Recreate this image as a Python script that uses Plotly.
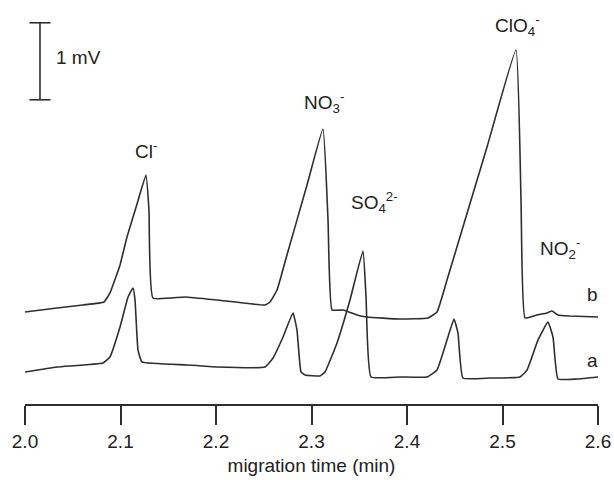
import plotly.graph_objects as go

# Electropherogram traces: migration time (min) and detector signal (mV)
time_a = [2.000, 2.0335, 2.0817, 2.089, 2.0995, 2.1079, 2.1131, 2.1152, 2.1183, 2.1225,
          2.1696, 2.2010, 2.2513, 2.2597, 2.2702, 2.2806, 2.2848, 2.2890, 2.2932, 2.3089,
          2.3141, 2.3267, 2.3403, 2.3539, 2.3571, 2.3623, 2.3927, 2.4209, 2.4314, 2.4419,
          2.4492, 2.4534, 2.4586, 2.4869, 2.5183, 2.5257, 2.5372, 2.5476, 2.5529, 2.5581,
          2.5780, 2.600]
signal_a = [0.065, 0.130, 0.182, 0.260, 0.649, 1.039, 1.156, 1.000, 0.351, 0.195,
            0.156, 0.130, 0.130, 0.247, 0.519, 0.831, 0.610, 0.065, 0.026, 0.013,
            0.065, 0.442, 1.000, 1.636, 1.039, 0.000, 0.000, 0.000, 0.091, 0.481,
            0.753, 0.571, -0.013, -0.013, 0.000, 0.091, 0.481, 0.714, 0.519, -0.026,
            -0.026, 0.000]

time_b = [2.000, 2.0335, 2.0607, 2.0827, 2.089, 2.0995, 2.1068, 2.1173, 2.1267, 2.1298,
          2.1340, 2.1675, 2.2010, 2.2513, 2.2565, 2.2639, 2.2743, 2.2953, 2.3120, 2.3173,
          2.3215, 2.3330, 2.3476, 2.3581, 2.3927, 2.4220, 2.4314, 2.4419, 2.4838, 2.5141,
          2.5194, 2.5236, 2.5361, 2.5466, 2.5518, 2.5581, 2.5707, 2.600]
signal_b = [0.844, 0.896, 0.935, 0.974, 1.091, 1.455, 1.818, 2.247, 2.623, 2.169,
            1.026, 1.039, 1.000, 0.935, 0.974, 1.130, 1.584, 2.494, 3.221, 2.039,
            0.870, 0.870, 0.805, 0.779, 0.753, 0.766, 0.844, 1.260, 2.987, 4.247,
            2.299, 0.766, 0.805, 0.831, 0.857, 0.805, 0.792, 0.779]

# Peak labels
peak_labels = ["Cl<sup>-</sup>", "NO<sub>3</sub><sup>-</sup>", "SO<sub>4</sub><sup>2-</sup>",
               "ClO<sub>4</sub><sup>-</sup>", "NO<sub>2</sub><sup>-</sup>"]
peak_label_time = [2.1267, 2.313, 2.366, 2.516, 2.560]
peak_label_signal = [2.95, 3.57, 2.26, 4.57, 1.675]

trace_names = ["a", "b"]
tick_values = [2.0, 2.1, 2.2, 2.3, 2.4, 2.5, 2.6]
tick_text = ["2.0", "2.1", "2.2", "2.3", "2.4", "2.5", "2.6"]

INK = "#2e2e2e"
TXT = "#222222"
FONT = "Liberation Sans, Arial, Helvetica, sans-serif"
FS = 19

fig = go.Figure()
for t, s in ((time_a, signal_a), (time_b, signal_b)):
    fig.add_trace(go.Scatter(x=t, y=s, mode="lines",
                             line=dict(color=INK, width=1.6, shape="spline", smoothing=0.35),
                             showlegend=False))

# 1 mV scale bar
sb_x, sb_top, cap = 2.0157, 4.60, 0.011
fig.add_trace(go.Scatter(
    x=[sb_x - cap, sb_x + cap, None, sb_x, sb_x, None, sb_x - cap, sb_x + cap],
    y=[sb_top, sb_top, None, sb_top, sb_top - 1, None, sb_top - 1, sb_top - 1],
    mode="lines", line=dict(color=INK, width=1.6), showlegend=False))

annotations = [dict(x=sb_x + 0.0145, y=sb_top - 0.45, text="1 mV", showarrow=False,
                    xanchor="left", yanchor="middle", font=dict(size=FS, color=TXT, family=FONT))]
for txt, t, v in zip(peak_labels, peak_label_time, peak_label_signal):
    annotations.append(dict(x=t, y=v, text=txt, showarrow=False, xanchor="center",
                            yanchor="middle", font=dict(size=FS, color=TXT, family=FONT)))
for name, v in zip(trace_names, [0.22, 1.065]):
    annotations.append(dict(x=2.594, y=v, text=name, showarrow=False, xanchor="center",
                            yanchor="middle", font=dict(size=FS, color=TXT, family=FONT)))

fig.update_layout(
    width=614, height=480,
    margin=dict(l=25, r=16, t=0, b=76),
    paper_bgcolor="white", plot_bgcolor="white",
    annotations=annotations,
    xaxis=dict(range=[2.0, 2.6], tickvals=tick_values, ticktext=tick_text,
               showline=True, linecolor=INK, linewidth=1.6,
               ticks="outside", ticklen=19, tickwidth=1.6, tickcolor=INK,
               showgrid=False, zeroline=False,
               tickfont=dict(size=FS, color=TXT, family=FONT),
               title=dict(text="migration time (min)", standoff=8,
                          font=dict(size=FS, color=TXT, family=FONT))),
    yaxis=dict(range=[-0.351, 4.896], visible=False, showgrid=False, zeroline=False),
)

fig.write_html("out.html")
